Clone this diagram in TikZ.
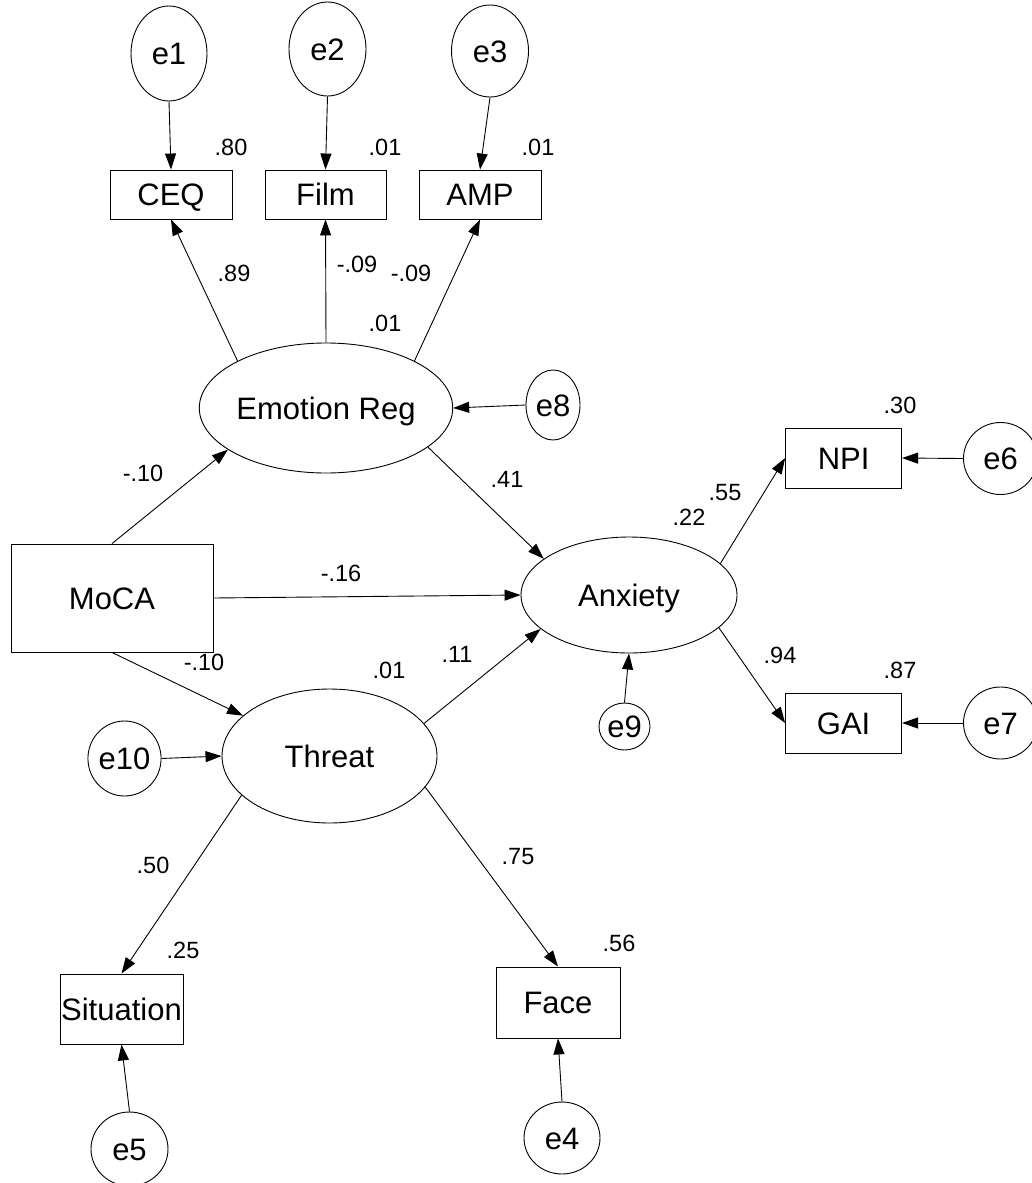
\documentclass[tikz,border=0pt]{standalone}
\usepackage{fontspec}
\setmainfont{Liberation Sans}
\usetikzlibrary{shapes.geometric,arrows.meta}
\begin{document}
\begin{tikzpicture}[x=1pt,y=-1pt,
  lat/.style={ellipse,draw,line width=0.9pt,inner sep=0pt,font=\fontsize{31}{36}\selectfont,text height=22.2pt,text depth=0pt},
  obs/.style={rectangle,draw,line width=0.9pt,inner sep=0pt,font=\fontsize{31}{36}\selectfont,text height=22.2pt,text depth=0pt},
  num/.style={inner sep=0pt,font=\fontsize{23.5}{28}\selectfont,text height=16.8pt,text depth=0pt},
  conn/.style={line width=0.9pt,-{Triangle[length=16pt,width=11pt]}},
]
\useasboundingbox (0,0) rectangle (1032,1183);
\clip (0,0) rectangle (1032,1183);

% error terms
\node[lat,minimum width=76pt,minimum height=95pt] (e1) at (169,53.5) {e1};
\node[lat,minimum width=77pt,minimum height=94pt] (e2) at (327.5,49) {e2};
\node[lat,minimum width=77pt,minimum height=92pt] (e3) at (490,51) {e3};
\node[lat,minimum width=54pt,minimum height=70pt] (e8) at (553,405) {e8};
\node[lat,minimum width=74pt,minimum height=72pt] (e6) at (1000.5,458.5) {e6};
\node[lat,minimum width=74pt,minimum height=72pt] (e7) at (1000.5,723) {e7};
\node[lat,minimum width=51pt,minimum height=47pt] (e9) at (624.5,726.5) {e9};
\node[lat,minimum width=63pt,minimum height=75pt] (e10) at (124.5,758.5) {e10};
\node[lat,minimum width=76pt,minimum height=72pt] (e4) at (562,1138) {e4};
\node[lat,minimum width=77pt,minimum height=74pt] (e5) at (129.5,1149) {e5};

% observed
\node[obs,minimum width=122pt,minimum height=49pt] (CEQ) at (171,194.5) {CEQ};
\node[obs,minimum width=121pt,minimum height=49pt] (Film) at (325.5,194.5) {Film};
\node[obs,minimum width=122pt,minimum height=49pt] (AMP) at (480,194.5) {AMP};
\node[obs,minimum width=202pt,minimum height=108pt] (MoCA) at (112,598) {MoCA};
\node[obs,minimum width=116pt,minimum height=60pt] (NPI) at (843.6,458) {NPI};
\node[obs,minimum width=116pt,minimum height=60pt] (GAI) at (843.6,723) {GAI};
\node[obs,minimum width=123pt,minimum height=70pt] (Sit) at (121.5,1009) {Situation};
\node[obs,minimum width=124pt,minimum height=71pt] (Face) at (558,1002.5) {Face};

% latent
\node[lat,minimum width=220pt,minimum height=130pt] (ER) at (326,408) {Emotion Reg};
\node[lat,minimum width=216pt,minimum height=116pt] (Anx) at (629,595) {Anxiety};
\node[lat,minimum width=215pt,minimum height=134pt] (Thr) at (329.5,756) {Threat};

% connectors
\draw[conn] (e1.south) -- (CEQ.north);
\draw[conn] (e2.south) -- (Film.north);
\draw[conn] (e3.south) -- (AMP.north);
\draw[conn] (ER.152.9) -- (CEQ.south);
\draw[conn] (ER.north) -- (Film.south);
\draw[conn] (ER.28.5) -- (AMP.south);
\draw[conn] (e8.west) -- (ER.east);
\draw[conn] (MoCA.north) -- (ER.203.7);
\draw[conn] (MoCA.east) -- (Anx.west);
\draw[conn] (MoCA.south) -- (Thr.155.8);
\draw[conn] (ER.339.6) -- (Anx.157.6);
\draw[conn] (Thr.19.3) -- (Anx.201.6);
\draw[conn] (e9.north) -- (Anx.south);
\draw[conn] (Anx.19.4) -- (NPI.west);
\draw[conn] (Anx.340.6) -- (GAI.west);
\draw[conn] (e6.west) -- (NPI.east);
\draw[conn] (e7.west) -- (GAI.east);
\draw[conn] (e10.east) -- (Thr.west);
\draw[conn] (Thr.204.8) -- (Sit.north);
\draw[conn] (Thr.342.3) -- (Face.north);
\draw[conn] (e5.north) -- (Sit.south);
\draw[conn] (e4.north) -- (Face.south);

% numbers
\node[num] (n1) at (231,147) {.80};
\node[num] (n2) at (385,147) {.01};
\node[num] (n3) at (538,147) {.01};
\node[num] (n4) at (234,273) {.89};
\node[num] (n5) at (357,264) {-.09};
\node[num] (n6) at (411,273) {-.09};
\node[num] (n7) at (385,323) {.01};
\node[num] (n8) at (143,473) {-.10};
\node[num] (n9) at (507,479) {.41};
\node[num] (n10) at (341,573) {-.16};
\node[num] (n11) at (204,662) {-.10};
\node[num] (n12) at (389,670) {.01};
\node[num] (n13) at (457,654) {.11};
\node[num] (n14) at (725,492) {.55};
\node[num] (n15) at (689,517) {.22};
\node[num] (n16) at (900,405) {.30};
\node[num] (n17) at (780,655) {.94};
\node[num] (n18) at (900,670) {.87};
\node[num] (n19) at (153,865) {.50};
\node[num] (n20) at (183,950) {.25};
\node[num] (n21) at (518,856) {.75};
\node[num] (n22) at (619,943) {.56};
\end{tikzpicture}
\end{document}
